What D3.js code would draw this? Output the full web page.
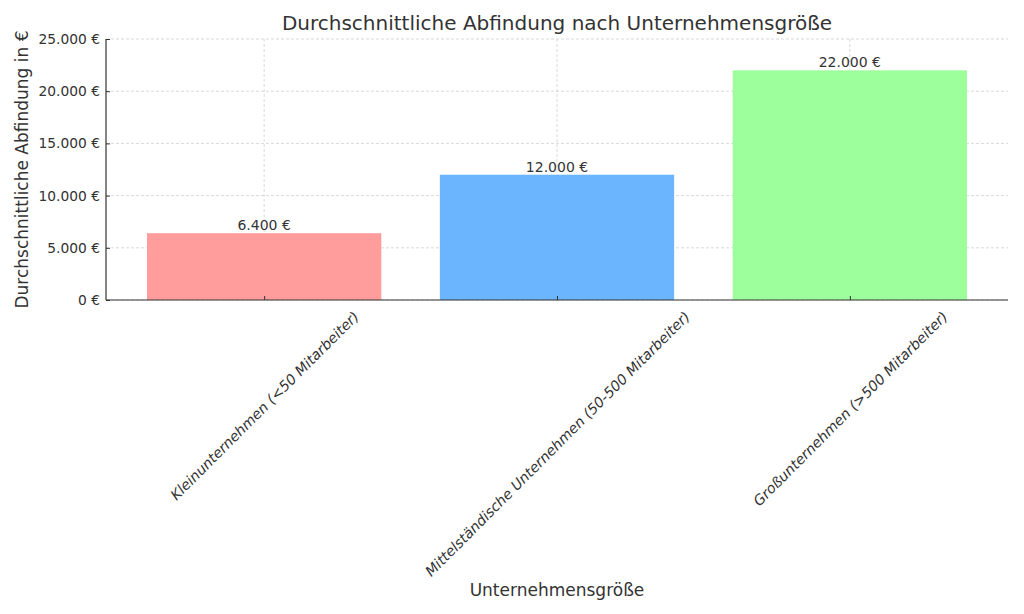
<!DOCTYPE html>
<html><head><meta charset="utf-8">
<script src="https://cdn.jsdelivr.net/npm/d3@7"></script>
<style>body{margin:0;background:#fff}svg{display:block}text{font-family:"DejaVu Sans",sans-serif;fill:#333}</style>
</head><body><div id="c"></div>
<script>
const categories = ["Kleinunternehmen (<50 Mitarbeiter)", "Mittelständische Unternehmen (50-500 Mitarbeiter)", "Großunternehmen (>500 Mitarbeiter)"];
const values = [6400, 12000, 22000];
const colors = ["#ff9999", "#66b3ff", "#99ff99"];
const yTicks = [0, 5000, 10000, 15000, 20000, 25000];
const title = "Durchschnittliche Abfindung nach Unternehmensgröße";
const xLabel = "Unternehmensgröße";
const yLabel = "Durchschnittliche Abfindung in €";

const W = 1024, H = 614;
const m = {left: 106, right: 16, top: 39, bottom: 314};
const iw = W - m.left - m.right, ih = H - m.top - m.bottom;
const fmt = v => d3.format(",")(v).replace(/,/g, ".") + " €";

const svg = d3.select("#c").append("svg").attr("width", W).attr("height", H);
const g = svg.append("g").attr("transform", `translate(${m.left},${m.top})`);

const x = d3.scaleLinear().domain([-0.54, categories.length - 1 + 0.54]).range([0, iw]);
const y = d3.scaleLinear().domain([0, 25000]).range([ih, 0]);
const bw = x(0.8) - x(0);

// grid
g.append("g").selectAll("line").data(yTicks).join("line")
  .attr("x1", 0).attr("x2", iw).attr("y1", d => y(d)).attr("y2", d => y(d))
  .attr("stroke", "#cfcfcf").attr("stroke-width", 0.8).attr("stroke-dasharray", "3,2");
g.append("g").selectAll("line").data(categories).join("line")
  .attr("x1", (d, i) => x(i)).attr("x2", (d, i) => x(i)).attr("y1", 0).attr("y2", ih)
  .attr("stroke", "#cfcfcf").attr("stroke-width", 0.8).attr("stroke-dasharray", "3,2");

// bars
g.append("g").selectAll("rect").data(values).join("rect")
  .attr("x", (d, i) => x(i) - bw / 2).attr("width", bw)
  .attr("y", d => y(d)).attr("height", d => ih - y(d))
  .attr("fill", (d, i) => colors[i]).attr("fill-opacity", 0.97);

// value labels
g.append("g").selectAll("text").data(values).join("text")
  .attr("x", (d, i) => x(i)).attr("y", d => y(d) - 3)
  .attr("text-anchor", "middle").attr("font-size", 14).text(d => fmt(d));

// axes
const ya = d3.axisLeft(y).tickValues(yTicks).tickFormat(fmt).tickSize(-4).tickPadding(6);
const yg = g.append("g").call(ya);
yg.select(".domain").attr("stroke", "#333").attr("stroke-width", 1.2).attr("d", `M0,0V${ih}`);
yg.selectAll(".tick line").attr("stroke", "#333");
yg.selectAll(".tick text").attr("font-size", 13.8).attr("fill", "#333").attr("font-family", "DejaVu Sans");

const xa = d3.axisBottom(x).tickValues(categories.map((d, i) => i)).tickFormat(i => categories[i]).tickSize(-4).tickPadding(8);
const xg = g.append("g").attr("transform", `translate(0,${ih})`).call(xa);
xg.select(".domain").attr("stroke", "#333").attr("stroke-width", 1.2).attr("d", `M0,0H${iw}`);
xg.selectAll(".tick line").attr("stroke", "#333");
xg.selectAll(".tick text").attr("font-size", 14.2).attr("fill", "#333").attr("font-family", "DejaVu Sans")
  .attr("font-style", "italic").attr("text-anchor", "middle").attr("dy", "0.35em").attr("y", 0).attr("x", 0)
  .each(function() {
    const L = this.getComputedTextLength();
    const h = 14.2;
    const bh = (L + h) * Math.SQRT1_2;
    d3.select(this).attr("transform", `translate(0,${9 + bh / 2}) rotate(-45)`);
  });

// title and labels
svg.append("text").attr("x", m.left + iw / 2).attr("y", 30).attr("text-anchor", "middle")
  .attr("font-size", 20).text(title);
svg.append("text").attr("x", m.left + iw / 2).attr("y", 596).attr("text-anchor", "middle")
  .attr("font-size", 17).text(xLabel);
svg.append("text").attr("transform", `translate(28,${m.top + ih / 2}) rotate(-90)`).attr("text-anchor", "middle")
  .attr("font-size", 17).text(yLabel);
</script></body></html>
